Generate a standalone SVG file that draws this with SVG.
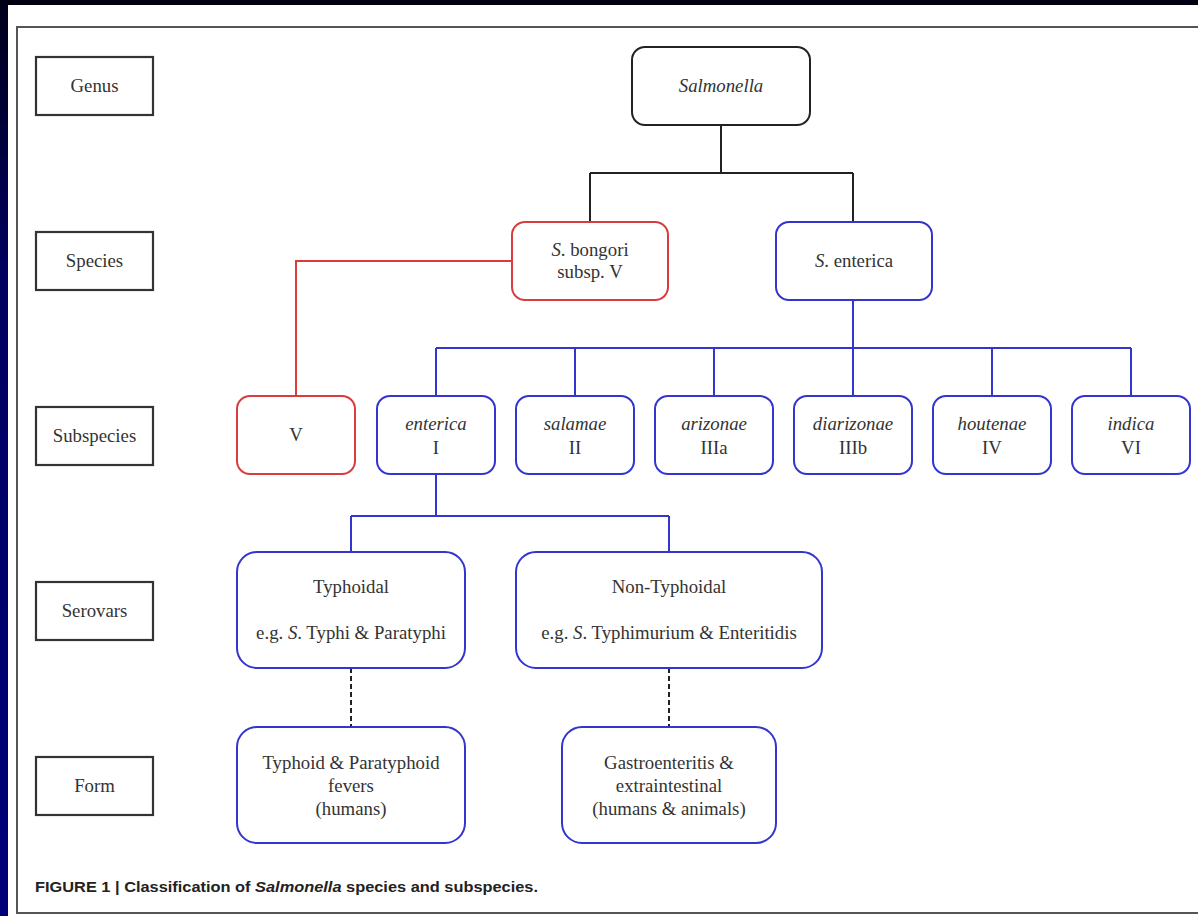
<svg xmlns="http://www.w3.org/2000/svg" width="1198" height="916" viewBox="0 0 1198 916">
<defs>
<linearGradient id="side" x1="0" y1="0" x2="0" y2="1">
<stop offset="0" stop-color="#00001a"/>
<stop offset="0.3" stop-color="#000060"/>
<stop offset="1" stop-color="#00007a"/>
</linearGradient>
<style>
.lbl{fill:#fff;stroke:#333;stroke-width:2.2}
.blk{fill:#fff;stroke:#222;stroke-width:2}
.blu{fill:#fff;stroke:#3434cf;stroke-width:2}
.red{fill:#fff;stroke:#d83c3c;stroke-width:2}
text{font-family:"Liberation Serif","Times New Roman",serif;font-size:18.8px;fill:#333;text-anchor:middle}
.it{font-style:italic}
.cl{fill:none;stroke-width:2}
.cap{font-family:"Liberation Sans",Arial,sans-serif;font-weight:bold;font-size:15.5px;text-anchor:start;fill:#222}
</style>
</defs>
<rect x="0" y="0" width="1198" height="916" fill="#000012"/>
<rect x="0" y="0" width="8" height="916" fill="url(#side)"/>
<rect x="8" y="5" width="1190" height="911" fill="#fff"/>
<rect x="17" y="27" width="1200" height="886" fill="none" stroke="#555" stroke-width="2"/>

<g id="connectors">
<path class="cl" stroke="#222" d="M721 125V173M590 173H853M590 173V222M853 173V222"/>
<path class="cl" stroke="#d83c3c" d="M512 261H296V396"/>
<path class="cl" stroke="#3434cf" d="M853 300V348M436 348H1131M436 348V396M575 348V396M714 348V396M853 348V396M992 348V396M1131 348V396"/>
<path class="cl" stroke="#3434cf" d="M436 474V516M351 516H669M351 516V552M669 516V552"/>
<path class="cl" stroke="#222" stroke-dasharray="5,3" d="M351 668V727M669 668V727"/>
</g>

<g id="label-genus"><rect class="lbl" x="36" y="57" width="117" height="58"/><text x="94.5" y="92">Genus</text></g>
<g id="label-species"><rect class="lbl" x="36" y="232" width="117" height="58"/><text x="94.5" y="267">Species</text></g>
<g id="label-subspecies"><rect class="lbl" x="36" y="407" width="117" height="58"/><text x="94.5" y="442">Subspecies</text></g>
<g id="label-serovars"><rect class="lbl" x="36" y="582" width="117" height="58"/><text x="94.5" y="617">Serovars</text></g>
<g id="label-form"><rect class="lbl" x="36" y="757" width="117" height="58"/><text x="94.5" y="792">Form</text></g>

<g id="salmonella"><rect class="blk" x="632" y="47" width="178" height="78" rx="13"/><text class="it" x="721" y="92">Salmonella</text></g>
<g id="bongori"><rect class="red" x="512" y="222" width="156" height="78" rx="13"/><text x="590" y="256"><tspan class="it">S</tspan>. bongori</text><text x="590" y="278">subsp. V</text></g>
<g id="s-enterica"><rect class="blu" x="776" y="222" width="156" height="78" rx="13"/><text x="854" y="267"><tspan class="it">S</tspan>. enterica</text></g>

<g id="sub-V"><rect class="red" x="237" y="396" width="118" height="78" rx="13"/><text x="296" y="441">V</text></g>
<g id="sub-enterica"><rect class="blu" x="377" y="396" width="118" height="78" rx="13"/><text class="it" x="436" y="430">enterica</text><text x="436" y="454">I</text></g>
<g id="sub-salamae"><rect class="blu" x="516" y="396" width="118" height="78" rx="13"/><text class="it" x="575" y="430">salamae</text><text x="575" y="454">II</text></g>
<g id="sub-arizonae"><rect class="blu" x="655" y="396" width="118" height="78" rx="13"/><text class="it" x="714" y="430">arizonae</text><text x="714" y="454">IIIa</text></g>
<g id="sub-diarizonae"><rect class="blu" x="794" y="396" width="118" height="78" rx="13"/><text class="it" x="853" y="430">diarizonae</text><text x="853" y="454">IIIb</text></g>
<g id="sub-houtenae"><rect class="blu" x="933" y="396" width="118" height="78" rx="13"/><text class="it" x="992" y="430">houtenae</text><text x="992" y="454">IV</text></g>
<g id="sub-indica"><rect class="blu" x="1072" y="396" width="118" height="78" rx="13"/><text class="it" x="1131" y="430">indica</text><text x="1131" y="454">VI</text></g>

<g id="typhoidal"><rect class="blu" x="237" y="552" width="228" height="116" rx="20"/><text x="351" y="593">Typhoidal</text><text x="351" y="639">e.g. <tspan class="it">S</tspan>. Typhi &amp; Paratyphi</text></g>
<g id="nontyphoidal"><rect class="blu" x="516" y="552" width="306" height="116" rx="20"/><text x="669" y="593">Non-Typhoidal</text><text x="669" y="639">e.g. <tspan class="it">S</tspan>. Typhimurium &amp; Enteritidis</text></g>

<g id="form-typhoid"><rect class="blu" x="237" y="727" width="228" height="116" rx="20"/><text x="351" y="769">Typhoid &amp; Paratyphoid</text><text x="351" y="792">fevers</text><text x="351" y="815">(humans)</text></g>
<g id="form-gastro"><rect class="blu" x="562" y="727" width="214" height="116" rx="20"/><text x="669" y="769">Gastroenteritis &amp;</text><text x="669" y="792">extraintestinal</text><text x="669" y="815">(humans &amp; animals)</text></g>

<text class="cap" x="35" y="892" textLength="503" lengthAdjust="spacingAndGlyphs">FIGURE 1 | Classification of <tspan font-style="italic">Salmonella</tspan> species and subspecies.</text>
</svg>
